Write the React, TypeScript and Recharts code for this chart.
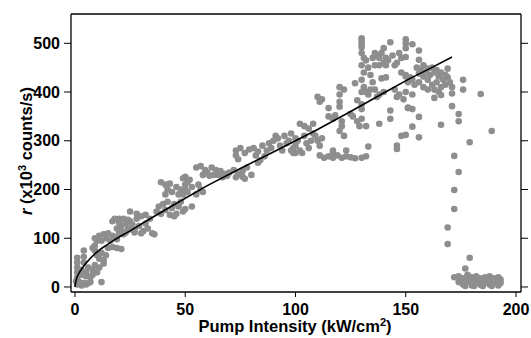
import React from 'react';
import { ScatterChart, Scatter, XAxis, YAxis } from 'recharts';

// Measured points, grouped by region of the pump-intensity axis: [intensity, r]
const risingPoints: [number, number][] = [
  [1, 5], [2, 10], [3, 3], [4, 8], [5, 5], [6, 8], [7, 10], [12, 10],
  [1, 20], [1, 30], [1, 40], [1, 50], [1, 60], [0.5, 12],
  [4, 75], [4, 62], [4, 50],
  [3, 35], [5, 30], [6, 40], [8, 35], [9, 45], [10, 30], [11, 40], [8, 25], [5, 22], [7, 20], [3, 25],
  [9, 85], [9, 75], [10, 65], [11, 58], [12, 70], [13, 55], [14, 65], [10, 95], [8, 80], [13, 48],
  [9, 100], [11, 105], [13, 108], [15, 110], [17, 105], [19, 98], [14, 100], [12, 95], [16, 95], [18, 102], [20, 110], [22, 108],
  [15, 80], [17, 82], [19, 80], [21, 78],
  [17, 135], [18, 140], [20, 132], [21, 125], [22, 140], [23, 130], [24, 120], [25, 135], [26, 128], [27, 118], [28, 140],
  [19, 120], [21, 115], [23, 112], [25, 118], [20, 140], [24, 138],
  [25, 155],
  [28, 150], [30, 145], [32, 148], [34, 140], [29, 125], [31, 115], [33, 120], [35, 110], [30, 110], [36, 108], [27, 112], [32, 130],
  [38, 165], [40, 170], [41, 158], [42, 175], [44, 162], [45, 170], [46, 150], [47, 165], [48, 175], [49, 155], [43, 148], [39, 150], [45, 145], [50, 160], [37, 155],
  [39, 215], [41, 210], [43, 212], [46, 205], [48, 200], [50, 210], [44, 195], [42, 200], [49, 190], [51, 215], [41, 190], [47, 190], [49, 223],
];

const middlePoints: [number, number][] = [
  [50, 200], [51, 195], [52, 220], [53, 205], [55, 190], [56, 210], [57, 200], [58, 195], [53, 165], [50, 226],
  [55, 245], [57, 248], [59, 240], [60, 235], [62, 245], [64, 240], [65, 230], [66, 238], [68, 232], [69, 228], [61, 228], [63, 230], [58, 230], [67, 225],
  [70, 235], [72, 240], [74, 232], [76, 238], [78, 245], [80, 230], [73, 225], [77, 222], [76, 226],
  [74, 262], [73, 270],
  [73, 280], [75, 285], [77, 275], [79, 282],
  [81, 285], [83, 278], [85, 290], [87, 280], [89, 285], [82, 270], [86, 268],
  [83, 255], [84, 260],
  [90, 300], [92, 305], [93, 290], [95, 310], [96, 295], [97, 300], [98, 315], [100, 305], [94, 280], [99, 285], [91, 310], [88, 295],
];

const upperPoints: [number, number][] = [
  [100, 290], [101, 300], [102, 280], [104, 310], [105, 295], [106, 285], [107, 300], [108, 315], [103, 275], [99, 275], [98, 280], [100, 275],
  [102, 335], [104, 330], [106, 325], [108, 335],
  [109, 310], [110, 300], [111, 290], [112, 305],
  [111, 270], [113, 265], [115, 268], [117, 265], [119, 270], [121, 265], [123, 268], [125, 266], [127, 264], [130, 265], [132, 268],
  [117, 280], [117, 275],
  [110, 390], [112, 385], [111, 380],
  [115, 367], [115, 350], [117, 345], [118, 352],
  [120, 410], [120, 395], [120, 380], [120, 370],
  [121, 340], [120, 320], [122, 310], [121, 330],
  [122, 405], [125, 355], [126, 350], [123, 280], [128, 383], [127, 418],
  [128, 340], [130, 345], [132, 330], [129, 330], [130, 375], [130, 365],
  [130, 510], [130, 505], [130, 498], [130, 492],
  [130, 480], [131, 470], [130, 455], [131, 440], [130, 425], [131, 410], [132, 400], [133, 395], [134, 405], [135, 420], [134, 435], [133, 450], [132, 465], [135, 470], [136, 455], [130, 400],
  [133, 288],
  [137, 475], [138, 470], [139, 480], [140, 460], [141, 470], [142, 465], [136, 480], [138, 455], [141, 455],
  [136, 405], [138, 395], [140, 400], [137, 390], [138, 335], [139, 428], [141, 430], [140, 490], [143, 502],
  [143, 362], [143, 345],
  [144, 475], [146, 460], [148, 470], [145, 455], [147, 480],
  [145, 405], [147, 395], [149, 385], [146, 390], [146, 290], [146, 283], [148, 310],
  [150, 508], [150, 500], [150, 490], [148, 440], [150, 432], [152, 428], [151, 368],
];

const collapsePoints: [number, number][] = [
  [153, 498], [156, 485], [150, 472], [156, 466],
  [155, 450], [157, 445], [158, 455], [159, 440], [160, 448], [161, 435], [162, 450], [163, 440], [164, 445], [165, 432], [156, 438], [158, 432],
  [150, 435], [151, 420], [152, 430], [153, 425], [154, 415],
  [156, 420], [158, 410], [160, 425], [162, 415], [163, 405], [164, 420], [166, 410], [167, 425], [168, 415], [169, 430], [170, 420], [171, 410], [160, 405], [165, 400], [168, 435], [166, 440],
  [169, 448], [163, 388], [166, 394], [171, 397], [150, 400], [153, 395],
  [176, 425], [176, 405], [184, 396],
  [151, 367], [153, 365], [156, 349], [153, 329], [156, 307], [150, 312], [166, 333], [171, 371], [174, 355], [174, 340], [189, 320], [179, 297],
  [172, 269], [174, 236], [172, 199], [172, 160], [169, 122], [169, 88], [179, 60], [177, 38],
  [172, 20], [174, 22], [176, 18], [178, 25], [180, 20], [182, 22], [184, 18], [186, 20], [188, 22], [190, 18], [192, 20],
  [174, 10], [176, 5], [178, 12], [180, 3], [182, 8], [184, 4], [186, 10], [188, 5], [190, 10], [192, 3],
  [175, 15], [177, 8], [179, 15], [181, 14], [183, 12], [185, 14], [187, 12], [189, 14], [191, 12], [193, 8],
  [177, 2], [181, 2], [185, 2], [189, 2], [193, 15],
];

// Fit curve
const fitX = [0, 0.25, 0.5, 1, 2, 3, 4, 5, 7, 9, 12, 15, 18, 21, 25, 30, 36, 42, 50, 60, 75, 90, 100, 110, 125, 140, 152, 160, 171];
const fitY = [0, 9, 14, 21, 30, 37, 43, 49, 59, 68, 79, 88, 97, 105, 115, 129, 145, 161, 182, 208, 243, 277, 300, 323, 360, 398, 428, 446, 472];

const xTicks = [0, 50, 100, 150, 200];
const yTicks = [0, 100, 200, 300, 400, 500];

const toPts = (arr: [number, number][]) => arr.map(([x, y]) => ({ x, y }));
const scatterData = [...toPts(risingPoints), ...toPts(middlePoints), ...toPts(upperPoints), ...toPts(collapsePoints)];
const fitData = fitX.map((x, i) => ({ x, y: fitY[i] }));

const FONT = 'Liberation Sans, Arial, Helvetica, sans-serif';
const tickStyle = { fill: '#000', fontSize: 16, fontWeight: 'bold', fontFamily: FONT };

const Dot = (p: any) => <circle cx={p.cx} cy={p.cy} r={3.3} fill="#8e8e8e" />;
const NoShape = () => <g />;
const NoTick = () => <g />;

const XTitle = () => (
  <text x={295} y={332} textAnchor="middle" fontFamily={FONT} fontWeight="bold" fontSize={16.5} fill="#000">
    Pump Intensity (kW/cm<tspan dy={-6} fontSize={11}>2</tspan><tspan dy={6}>)</tspan>
  </text>
);

const YTitleRot = () => (
  <g transform="translate(32,151) rotate(-90)">
    <text x={0} y={0} textAnchor="middle" fontFamily={FONT} fontWeight="bold" fontSize={16.5} fill="#000">
      <tspan fontStyle="italic">r</tspan> (x10<tspan dy={-6} fontSize={11}>3</tspan><tspan dy={6}> counts/s)</tspan>
    </text>
  </g>
);

export default function App() {
  const dom: [number, number] = [-1.81, 202.27];
  const ydom: [number, number] = [-10.3, 560.1];
  const line = { stroke: '#000', strokeWidth: 1.3 };
  return (
    <div style={{ position: 'absolute', left: 0, top: 0, width: 531, height: 338, background: '#fff' }}>
      <ScatterChart width={531} height={338} margin={{ top: 0, right: 0, bottom: 0, left: 0 }}>
        <XAxis
          xAxisId={0}
          type="number"
          dataKey="x"
          domain={dom}
          ticks={xTicks}
          allowDataOverflow
          height={46}
          tickSize={5}
          tickMargin={7}
          axisLine={line}
          tickLine={{ stroke: '#000' }}
          tick={tickStyle}
          label={{ content: XTitle }}
        />
        <XAxis
          xAxisId="top"
          orientation="top"
          type="number"
          domain={dom}
          ticks={xTicks}
          allowDataOverflow
          height={14}
          tickSize={7}
          axisLine={line}
          tickLine={{ stroke: '#000' }}
          tick={NoTick}
        />
        <YAxis
          yAxisId={0}
          type="number"
          dataKey="y"
          domain={ydom}
          ticks={yTicks}
          allowDataOverflow
          width={71}
          tickSize={7}
          tickMargin={4}
          axisLine={line}
          tickLine={{ stroke: '#000' }}
          tick={tickStyle}
          label={{ content: YTitleRot }}
        />
        <YAxis
          yAxisId="right"
          orientation="right"
          type="number"
          domain={ydom}
          ticks={yTicks}
          allowDataOverflow
          width={10}
          tickSize={7}
          axisLine={line}
          tickLine={{ stroke: '#000' }}
          tick={NoTick}
        />
        <Scatter data={scatterData} shape={Dot} isAnimationActive={false} />
        <Scatter
          data={fitData}
          shape={NoShape}
          line={{ stroke: '#000', strokeWidth: 1.6 }}
          lineType="joint"
          isAnimationActive={false}
        />
      </ScatterChart>
    </div>
  );
}
